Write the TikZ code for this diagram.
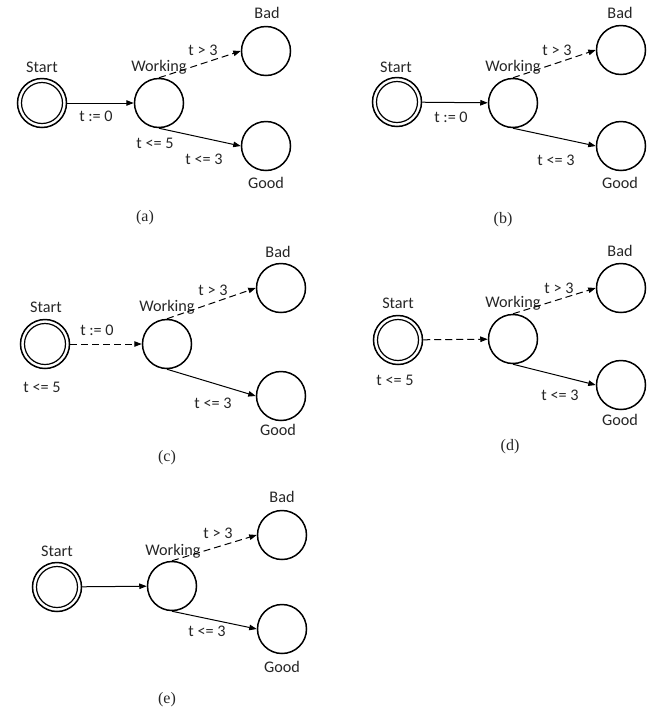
\documentclass[tikz,border=0pt]{standalone}
\usepackage{fontspec}
\setmainfont{Carlito}
\newfontfamily\capfont{Liberation Serif}
\usetikzlibrary{arrows.meta}
\begin{document}
\begin{tikzpicture}[x=1pt,y=-1pt,
  state/.style={circle,draw,line width=1.5pt,minimum size=49pt,inner sep=0pt},
  ring/.style={line width=1.2pt},
  txt/.style={font=\fontsize{16.2}{19}\selectfont,inner sep=0pt,text=black!85},
  captext/.style={font=\capfont\fontsize{16}{19}\selectfont,inner sep=0pt,text=black!85},
  trans/.style={line width=1pt,-{Triangle[length=7.5pt,width=5.5pt]}},
  dtrans/.style={trans,dash pattern=on 7pt off 4pt}]
\useasboundingbox (0,0) rectangle (653,713);

% ---------- (a) ----------
\node[state] (aS) at (42,103) {};
\draw[ring] (aS.center) circle[radius=20.5pt];
\node[state] (aW) at (159,103) {};
\node[state] (aB) at (266,51) {};
\node[state] (aG) at (266,146) {};
\node[txt] (aSl) at (42,67) {Start};
\node[txt] (aWl) at (159,67) {Working};
\node[txt] (aBl) at (267,13) {Bad};
\node[txt] (aGl) at (266,183) {Good};
\draw[trans] (aS) -- (aW);
\draw[dtrans] (aW.north) -- (aB.west);
\draw[trans] (aW.south) -- (aG.west);
\node[txt] (aT0) at (96,116) {t := 0};
\node[txt] (aT3a) at (203,50) {t > 3};
\node[txt] (aT3b) at (204,159) {t <= 3};
\node[txt] (aT5) at (155,143) {t <= 5};
\node[captext] (aCap) at (145,218) {(a)};

% ---------- (b) ----------
\node[state] (bS) at (397,102) {};
\draw[ring] (bS.center) circle[radius=20.5pt];
\node[state] (bW) at (513,103) {};
\node[state] (bB) at (621,50) {};
\node[state] (bG) at (621,146) {};
\node[txt] (bSl) at (396,67) {Start};
\node[txt] (bWl) at (513,67) {Working};
\node[txt] (bBl) at (620,13) {Bad};
\node[txt] (bGl) at (620,183) {Good};
\draw[trans] (bS) -- (bW);
\draw[dtrans] (bW.north) -- (bB.west);
\draw[trans] (bW.south) -- (bG.west);
\node[txt] (bT0) at (451,117) {t := 0};
\node[txt] (bT3a) at (557,50) {t > 3};
\node[txt] (bT3b) at (556,160) {t <= 3};
\node[captext] (bCap) at (503,220) {(b)};

% ---------- (c) ----------
\node[state] (cS) at (45,344) {};
\draw[ring] (cS.center) circle[radius=20.5pt];
\node[state] (cW) at (167,344) {};
\node[state] (cB) at (281,288) {};
\node[state] (cG) at (281,396) {};
\node[txt] (cSl) at (46,307) {Start};
\node[txt] (cWl) at (167,307) {Working};
\node[txt] (cBl) at (278,252) {Bad};
\node[txt] (cGl) at (278,430) {Good};
\draw[dtrans] (cS) -- (cW);
\draw[dtrans] (cW.north) -- (cB.west);
\draw[trans] (cW.south) -- (cG.west);
\node[txt] (cT0) at (97,330) {t := 0};
\node[txt] (cT3a) at (213,290) {t > 3};
\node[txt] (cT3b) at (213,403) {t <= 3};
\node[txt] (cT5) at (42,387) {t <= 5};
\node[captext] (cCap) at (167,458) {(c)};

% ---------- (d) ----------
\node[state] (dS) at (398,340) {};
\draw[ring] (dS.center) circle[radius=20.5pt];
\node[state] (dW) at (513,339) {};
\node[state] (dB) at (621,288) {};
\node[state] (dG) at (621,385) {};
\node[txt] (dSl) at (398,303) {Start};
\node[txt] (dWl) at (513,303) {Working};
\node[txt] (dBl) at (620,251) {Bad};
\node[txt] (dGl) at (620,420) {Good};
\draw[dtrans] (dS) -- (dW);
\draw[dtrans] (dW.north) -- (dB.west);
\draw[trans] (dW.south) -- (dG.west);
\node[txt] (dT3a) at (559,288) {t > 3};
\node[txt] (dT3b) at (560,395) {t <= 3};
\node[txt] (dT5) at (395,380) {t <= 5};
\node[captext] (dCap) at (510,447) {(d)};

% ---------- (e) ----------
\node[state] (eS) at (57,587) {};
\draw[ring] (eS.center) circle[radius=20.5pt];
\node[state] (eW) at (172,586) {};
\node[state] (eB) at (282,535) {};
\node[state] (eG) at (282,629) {};
\node[txt] (eSl) at (57,551) {Start};
\node[txt] (eWl) at (173,551) {Working};
\node[txt] (eBl) at (282,497) {Bad};
\node[txt] (eGl) at (282,667) {Good};
\draw[trans] (eS) -- (eW);
\draw[dtrans] (eW.north) -- (eB.west);
\draw[trans] (eW.south) -- (eG.west);
\node[txt] (eT3a) at (218,533) {t > 3};
\node[txt] (eT3b) at (207,631) {t <= 3};
\node[captext] (eCap) at (167,700) {(e)};
\end{tikzpicture}
\end{document}
